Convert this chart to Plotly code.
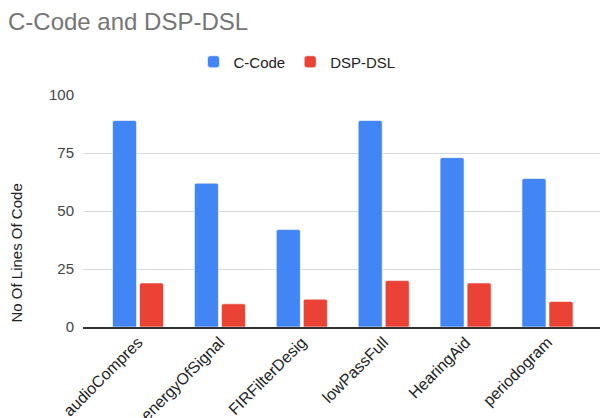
import plotly.graph_objects as go

# Lines of code per DSP example, hand-written C versus the DSP DSL
programs = ["audioCompres", "energyOfSignal", "FIRFilterDesig",
            "lowPassFull", "HearingAid", "periodogram"]
c_code = [89, 62, 42, 89, 73, 64]
dsp_dsl = [19, 10, 12, 20, 19, 11]
y_ticks = [0, 25, 50, 75, 100]

W, H = 600, 418
L, R, T, B = 83, 0, 95, 91
plot_w = W - L - R
plot_h = H - T - B

FONT = "Liberation Sans, Arial, sans-serif"

fig = go.Figure()
fig.add_trace(go.Bar(name="C-Code", x=programs, y=c_code,
                     marker=dict(color="#4285F4", line=dict(color="white", width=0.6))))
fig.add_trace(go.Bar(name="DSP-DSL", x=programs, y=dsp_dsl,
                     marker=dict(color="#EA4335", line=dict(color="white", width=0.6))))

fig.update_layout(
    width=W, height=H,
    margin=dict(l=L, r=R, t=T, b=B, autoexpand=False),
    paper_bgcolor="white", plot_bgcolor="white",
    barmode="group", bargap=0.34, bargroupgap=0.11, barcornerradius=2,
    font=dict(family=FONT, color="#444444", size=15),
    title=dict(text="C-Code and DSP-DSL", x=8 / W, xanchor="left",
               y=1 - 22 / H, yanchor="middle",
               font=dict(family=FONT, size=24, color="#757575")),
    legend=dict(orientation="h", xref="container", x=0.495, xanchor="center",
                yref="container", y=1 - 62 / H, yanchor="middle",
                font=dict(size=15, color="#222222"), itemwidth=30,
                traceorder="normal"),
    showlegend=True,
)

fig.update_xaxes(range=[-0.672, 5.641], tickangle=-45, showgrid=False,
                 showline=True, linecolor="#333333", linewidth=1.5,
                 ticks="", ticklabelstandoff=-2,
                 tickfont=dict(size=16, color="#222222"),
                 fixedrange=True)
fig.update_yaxes(range=[0, 100], tickvals=y_ticks, showgrid=True,
                 gridcolor="#d9d9d9", gridwidth=1.2, zeroline=False,
                 showline=False, ticks="", ticklabelstandoff=8,
                 tickfont=dict(size=15, color="#444444"), fixedrange=True)

fig.add_annotation(text="No Of Lines Of Code", textangle=-90,
                   xref="paper", x=(16 - L) / plot_w, xanchor="center",
                   yref="paper", y=(327 - 253.5) / plot_h, yanchor="middle",
                   showarrow=False, font=dict(size=15, color="#222222"))

fig.write_html("out.html")
